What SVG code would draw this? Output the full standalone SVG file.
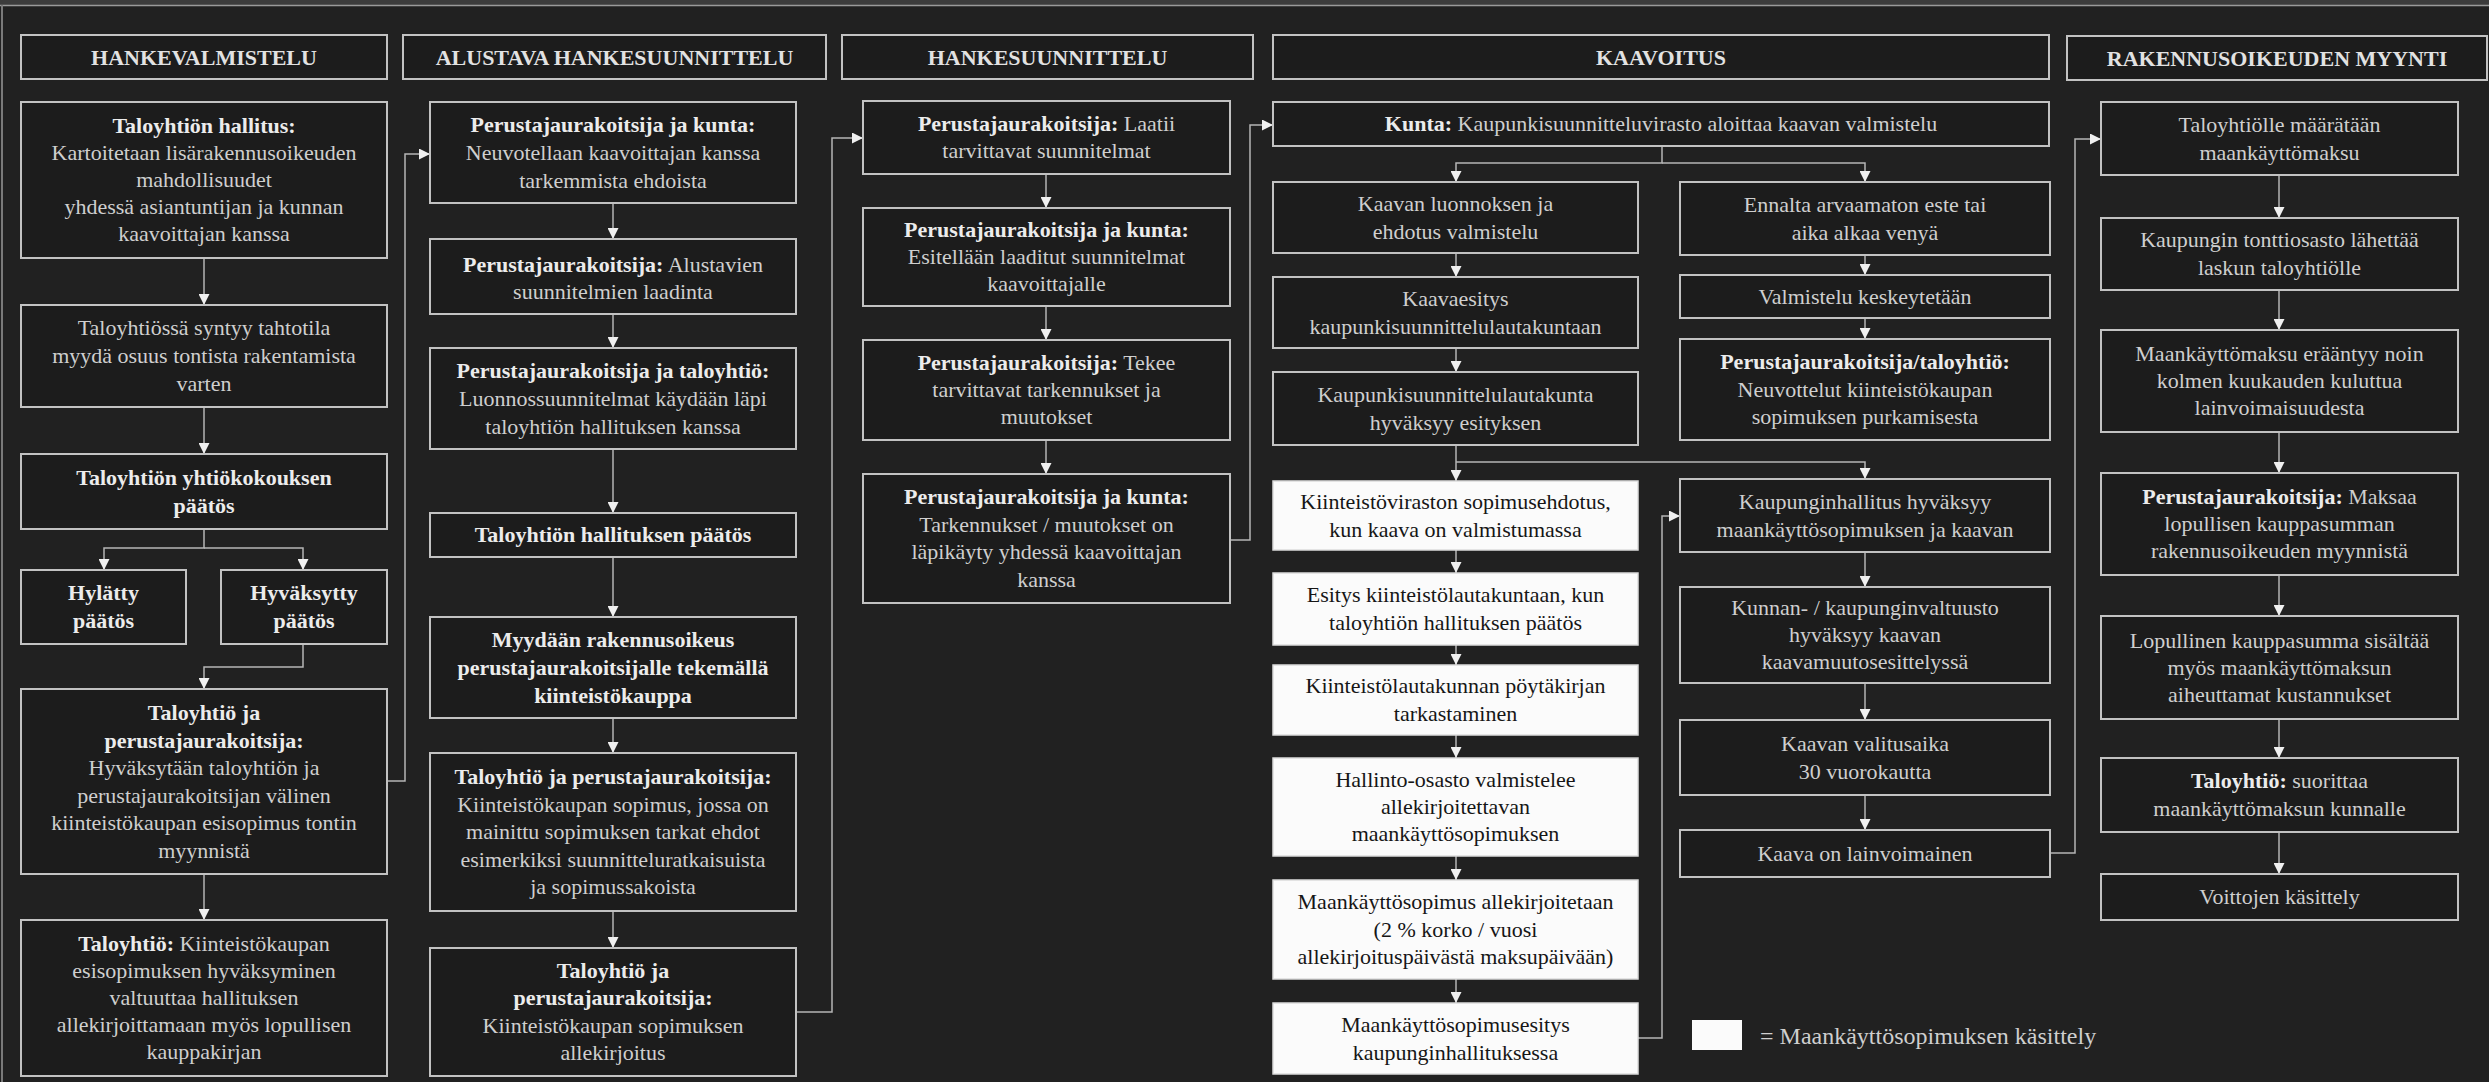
<svg xmlns="http://www.w3.org/2000/svg" width="2489" height="1082" viewBox="0 0 2489 1082">
<style>
.box{fill:#1c1c1c;stroke:#c2c2c2;stroke-width:2}
.wbox{fill:#fbfbfb;stroke:#dcdcdc;stroke-width:1.5}
text{font-family:"Liberation Serif","Times New Roman",serif;font-size:22px;text-anchor:middle;fill:#cfcfcf}
.b{font-weight:bold;fill:#ececec}
.w{fill:#161616}
.h{font-weight:bold;fill:#e2e2e2}
.c{fill:none;stroke:#b5b5b5;stroke-width:1.5;marker-end:url(#ah)}
.cn{fill:none;stroke:#b5b5b5;stroke-width:1.5}
.lg{text-anchor:start;font-size:24px}
</style>
<defs>
<marker id="ah" viewBox="0 0 10 10" refX="10" refY="5" markerWidth="11" markerHeight="11" markerUnits="userSpaceOnUse" orient="auto"><path d="M0,0 L10,5 L0,10 z" fill="#f0f0f0"/></marker>
</defs>
<rect x="0" y="0" width="2489" height="1082" fill="#212121"/>
<rect x="0" y="0" width="2489" height="5" fill="#3c3c3c"/>
<line x1="0" y1="5.5" x2="2489" y2="5.5" stroke="#9a9a9a" stroke-width="1.5"/>
<line x1="2" y1="5" x2="2" y2="1082" stroke="#7a7a7a" stroke-width="2"/>

<g id="connectors">
<path class="c" d="M204,258 V305"/>
<path class="c" d="M204,407 V454"/>
<path class="c" d="M204,529 V548 H104 V570"/>
<path class="c" d="M204,548 H303 V570"/>
<path class="c" d="M303,644 V667 H204 V689"/>
<path class="c" d="M204,874 V920"/>
<path class="c" d="M387,781 H405 V154 H430"/>
<path class="c" d="M613,203 V239"/>
<path class="c" d="M613,314 V348"/>
<path class="c" d="M613,449 V513"/>
<path class="c" d="M613,557 V617"/>
<path class="c" d="M613,718 V753"/>
<path class="c" d="M613,911 V948"/>
<path class="c" d="M796,1012 H832 V138 H863"/>
<path class="c" d="M1046,174 V208"/>
<path class="c" d="M1046,306 V340"/>
<path class="c" d="M1046,440 V474"/>
<path class="c" d="M1230,540 H1250 V125 H1273"/>
<path class="c" d="M1662,146 V163 H1456 V182"/>
<path class="c" d="M1662,163 H1865 V182"/>
<path class="c" d="M1456,253 V277"/>
<path class="c" d="M1456,348 V372"/>
<path class="c" d="M1456,445 V481"/>
<path class="c" d="M1456,462 H1865 V479"/>
<path class="c" d="M1456,550 V573"/>
<path class="c" d="M1456,645 V665"/>
<path class="c" d="M1456,735 V758"/>
<path class="c" d="M1456,856 V880"/>
<path class="c" d="M1456,979 V1003"/>
<path class="c" d="M1865,255 V275"/>
<path class="c" d="M1865,318 V339"/>
<path class="c" d="M1638,1038 H1662 V516 H1680"/>
<path class="c" d="M1865,552 V587"/>
<path class="c" d="M1865,683 V720"/>
<path class="c" d="M1865,795 V830"/>
<path class="c" d="M2050,853 H2075 V139 H2101"/>
<path class="c" d="M2279,175 V218"/>
<path class="c" d="M2279,290 V330"/>
<path class="c" d="M2279,432 V473"/>
<path class="c" d="M2279,575 V616"/>
<path class="c" d="M2279,719 V758"/>
<path class="c" d="M2279,832 V874"/>
</g>

<!-- Column headers -->
<g id="hdr1"><rect class="box" x="21" y="35" width="366" height="44"/><text class="h" x="204" y="65">HANKEVALMISTELU</text></g>
<g id="hdr2"><rect class="box" x="403" y="35" width="423" height="44"/><text class="h" x="614.5" y="65">ALUSTAVA HANKESUUNNITTELU</text></g>
<g id="hdr3"><rect class="box" x="842" y="35" width="411" height="44"/><text class="h" x="1047.5" y="65">HANKESUUNNITTELU</text></g>
<g id="hdr4"><rect class="box" x="1273" y="35" width="776" height="44"/><text class="h" x="1661" y="65">KAAVOITUS</text></g>
<g id="hdr5"><rect class="box" x="2067" y="36" width="420" height="44"/><text class="h" x="2277" y="66">RAKENNUSOIKEUDEN MYYNTI</text></g>

<!-- Column 1 -->
<g id="n1"><rect class="box" x="21" y="102" width="366" height="156"/>
<text><tspan class="b" x="204" y="133">Taloyhtiön hallitus:</tspan><tspan x="204" y="160">Kartoitetaan lisärakennusoikeuden</tspan><tspan x="204" y="187">mahdollisuudet</tspan><tspan x="204" y="214">yhdessä asiantuntijan ja kunnan</tspan><tspan x="204" y="241">kaavoittajan kanssa</tspan></text></g>
<g id="n2"><rect class="box" x="21" y="305" width="366" height="102"/>
<text><tspan x="204" y="335">Taloyhtiössä syntyy tahtotila</tspan><tspan x="204" y="363">myydä osuus tontista rakentamista</tspan><tspan x="204" y="391">varten</tspan></text></g>
<g id="n3"><rect class="box" x="21" y="454" width="366" height="75"/>
<text class="b"><tspan x="204" y="485">Taloyhtiön yhtiökokouksen</tspan><tspan x="204" y="513">päätös</tspan></text></g>
<g id="n4a"><rect class="box" x="21" y="570" width="165" height="74"/>
<text class="b"><tspan x="103.5" y="600">Hylätty</tspan><tspan x="103.5" y="628">päätös</tspan></text></g>
<g id="n4b"><rect class="box" x="221" y="570" width="166" height="74"/>
<text class="b"><tspan x="304" y="600">Hyväksytty</tspan><tspan x="304" y="628">päätös</tspan></text></g>
<g id="n5"><rect class="box" x="21" y="689" width="366" height="185"/>
<text><tspan class="b" x="204" y="720">Taloyhtiö ja</tspan><tspan class="b" x="204" y="748">perustajaurakoitsija:</tspan><tspan x="204" y="775">Hyväksytään taloyhtiön ja</tspan><tspan x="204" y="803">perustajaurakoitsijan välinen</tspan><tspan x="204" y="830">kiinteistökaupan esisopimus tontin</tspan><tspan x="204" y="858">myynnistä</tspan></text></g>
<g id="n6"><rect class="box" x="21" y="920" width="366" height="156"/>
<text><tspan x="204" y="951"><tspan class="b">Taloyhtiö:</tspan> Kiinteistökaupan</tspan><tspan x="204" y="978">esisopimuksen hyväksyminen</tspan><tspan x="204" y="1005">valtuuttaa hallituksen</tspan><tspan x="204" y="1032">allekirjoittamaan myös lopullisen</tspan><tspan x="204" y="1059">kauppakirjan</tspan></text></g>

<!-- Column 2 -->
<g id="m1"><rect class="box" x="430" y="102" width="366" height="101"/>
<text><tspan class="b" x="613" y="132">Perustajaurakoitsija ja kunta:</tspan><tspan x="613" y="160">Neuvotellaan kaavoittajan kanssa</tspan><tspan x="613" y="188">tarkemmista ehdoista</tspan></text></g>
<g id="m2"><rect class="box" x="430" y="239" width="366" height="75"/>
<text><tspan x="613" y="272"><tspan class="b">Perustajaurakoitsija:</tspan> Alustavien</tspan><tspan x="613" y="299">suunnitelmien laadinta</tspan></text></g>
<g id="m3"><rect class="box" x="430" y="348" width="366" height="101"/>
<text><tspan class="b" x="613" y="378">Perustajaurakoitsija ja taloyhtiö:</tspan><tspan x="613" y="406">Luonnossuunnitelmat käydään läpi</tspan><tspan x="613" y="434">taloyhtiön hallituksen kanssa</tspan></text></g>
<g id="m4"><rect class="box" x="430" y="513" width="366" height="44"/>
<text class="b" x="613" y="542">Taloyhtiön hallituksen päätös</text></g>
<g id="m5"><rect class="box" x="430" y="617" width="366" height="101"/>
<text class="b"><tspan x="613" y="647">Myydään rakennusoikeus</tspan><tspan x="613" y="675">perustajaurakoitsijalle tekemällä</tspan><tspan x="613" y="703">kiinteistökauppa</tspan></text></g>
<g id="m6"><rect class="box" x="430" y="753" width="366" height="158"/>
<text><tspan class="b" x="613" y="784">Taloyhtiö ja perustajaurakoitsija:</tspan><tspan x="613" y="812">Kiinteistökaupan sopimus, jossa on</tspan><tspan x="613" y="839">mainittu sopimuksen tarkat ehdot</tspan><tspan x="613" y="867">esimerkiksi suunnitteluratkaisuista</tspan><tspan x="613" y="894">ja sopimussakoista</tspan></text></g>
<g id="m7"><rect class="box" x="430" y="948" width="366" height="128"/>
<text><tspan class="b" x="613" y="978">Taloyhtiö ja</tspan><tspan class="b" x="613" y="1005">perustajaurakoitsija:</tspan><tspan x="613" y="1033">Kiinteistökaupan sopimuksen</tspan><tspan x="613" y="1060">allekirjoitus</tspan></text></g>

<!-- Column 3 -->
<g id="c1"><rect class="box" x="863" y="101" width="367" height="73"/>
<text><tspan x="1046.5" y="131"><tspan class="b">Perustajaurakoitsija:</tspan> Laatii</tspan><tspan x="1046.5" y="158">tarvittavat suunnitelmat</tspan></text></g>
<g id="c2"><rect class="box" x="863" y="208" width="367" height="98"/>
<text><tspan class="b" x="1046.5" y="237">Perustajaurakoitsija ja kunta:</tspan><tspan x="1046.5" y="264">Esitellään laaditut suunnitelmat</tspan><tspan x="1046.5" y="291">kaavoittajalle</tspan></text></g>
<g id="c3"><rect class="box" x="863" y="340" width="367" height="100"/>
<text><tspan x="1046.5" y="370"><tspan class="b">Perustajaurakoitsija:</tspan> Tekee</tspan><tspan x="1046.5" y="397">tarvittavat tarkennukset ja</tspan><tspan x="1046.5" y="424">muutokset</tspan></text></g>
<g id="c4"><rect class="box" x="863" y="474" width="367" height="129"/>
<text><tspan class="b" x="1046.5" y="504">Perustajaurakoitsija ja kunta:</tspan><tspan x="1046.5" y="532">Tarkennukset / muutokset on</tspan><tspan x="1046.5" y="559">läpikäyty yhdessä kaavoittajan</tspan><tspan x="1046.5" y="587">kanssa</tspan></text></g>

<!-- Column 4 -->
<g id="k0"><rect class="box" x="1273" y="102" width="776" height="44"/>
<text x="1661" y="131"><tspan class="b">Kunta:</tspan> Kaupunkisuunnitteluvirasto aloittaa kaavan valmistelu</text></g>
<g id="k1"><rect class="box" x="1273" y="182" width="365" height="71"/>
<text><tspan x="1455.5" y="211">Kaavan luonnoksen ja</tspan><tspan x="1455.5" y="239">ehdotus valmistelu</tspan></text></g>
<g id="k2"><rect class="box" x="1273" y="277" width="365" height="71"/>
<text><tspan x="1455.5" y="306">Kaavaesitys</tspan><tspan x="1455.5" y="334">kaupunkisuunnittelulautakuntaan</tspan></text></g>
<g id="k3"><rect class="box" x="1273" y="372" width="365" height="73"/>
<text><tspan x="1455.5" y="402">Kaupunkisuunnittelulautakunta</tspan><tspan x="1455.5" y="430">hyväksyy esityksen</tspan></text></g>
<g id="w1"><rect class="wbox" x="1273" y="481" width="365" height="69"/>
<text class="w"><tspan x="1455.5" y="509">Kiinteistöviraston sopimusehdotus,</tspan><tspan x="1455.5" y="537">kun kaava on valmistumassa</tspan></text></g>
<g id="w2"><rect class="wbox" x="1273" y="573" width="365" height="72"/>
<text class="w"><tspan x="1455.5" y="602">Esitys kiinteistölautakuntaan, kun</tspan><tspan x="1455.5" y="630">taloyhtiön hallituksen päätös</tspan></text></g>
<g id="w3"><rect class="wbox" x="1273" y="665" width="365" height="70"/>
<text class="w"><tspan x="1455.5" y="693">Kiinteistölautakunnan pöytäkirjan</tspan><tspan x="1455.5" y="721">tarkastaminen</tspan></text></g>
<g id="w4"><rect class="wbox" x="1273" y="758" width="365" height="98"/>
<text class="w"><tspan x="1455.5" y="787">Hallinto-osasto valmistelee</tspan><tspan x="1455.5" y="814">allekirjoitettavan</tspan><tspan x="1455.5" y="841">maankäyttösopimuksen</tspan></text></g>
<g id="w5"><rect class="wbox" x="1273" y="880" width="365" height="99"/>
<text class="w"><tspan x="1455.5" y="909">Maankäyttösopimus allekirjoitetaan</tspan><tspan x="1455.5" y="937">(2 % korko / vuosi</tspan><tspan x="1455.5" y="964">allekirjoituspäivästä maksupäivään)</tspan></text></g>
<g id="w6"><rect class="wbox" x="1273" y="1003" width="365" height="71"/>
<text class="w"><tspan x="1455.5" y="1032">Maankäyttösopimusesitys</tspan><tspan x="1455.5" y="1060">kaupunginhallituksessa</tspan></text></g>
<g id="r1"><rect class="box" x="1680" y="182" width="370" height="73"/>
<text><tspan x="1865" y="212">Ennalta arvaamaton este tai</tspan><tspan x="1865" y="240">aika alkaa venyä</tspan></text></g>
<g id="r2"><rect class="box" x="1680" y="275" width="370" height="43"/>
<text x="1865" y="304">Valmistelu keskeytetään</text></g>
<g id="r3"><rect class="box" x="1680" y="339" width="370" height="101"/>
<text><tspan class="b" x="1865" y="369">Perustajaurakoitsija/taloyhtiö:</tspan><tspan x="1865" y="397">Neuvottelut kiinteistökaupan</tspan><tspan x="1865" y="424">sopimuksen purkamisesta</tspan></text></g>
<g id="r4"><rect class="box" x="1680" y="479" width="370" height="73"/>
<text><tspan x="1865" y="509">Kaupunginhallitus hyväksyy</tspan><tspan x="1865" y="537">maankäyttösopimuksen ja kaavan</tspan></text></g>
<g id="r5"><rect class="box" x="1680" y="587" width="370" height="96"/>
<text><tspan x="1865" y="615">Kunnan- / kaupunginvaltuusto</tspan><tspan x="1865" y="642">hyväksyy kaavan</tspan><tspan x="1865" y="669">kaavamuutosesittelyssä</tspan></text></g>
<g id="r6"><rect class="box" x="1680" y="720" width="370" height="75"/>
<text><tspan x="1865" y="751">Kaavan valitusaika</tspan><tspan x="1865" y="779">30 vuorokautta</tspan></text></g>
<g id="r7"><rect class="box" x="1680" y="830" width="370" height="47"/>
<text x="1865" y="861">Kaava on lainvoimainen</text></g>

<!-- Legend -->
<g id="legend"><rect x="1692" y="1020" width="50" height="30" fill="#fbfbfb"/>
<text class="lg" x="1760" y="1044">= Maankäyttösopimuksen käsittely</text></g>

<!-- Column 5 -->
<g id="s1"><rect class="box" x="2101" y="102" width="357" height="73"/>
<text><tspan x="2279.5" y="132">Taloyhtiölle määrätään</tspan><tspan x="2279.5" y="160">maankäyttömaksu</tspan></text></g>
<g id="s2"><rect class="box" x="2101" y="218" width="357" height="72"/>
<text><tspan x="2279.5" y="247">Kaupungin tonttiosasto lähettää</tspan><tspan x="2279.5" y="275">laskun taloyhtiölle</tspan></text></g>
<g id="s3"><rect class="box" x="2101" y="330" width="357" height="102"/>
<text><tspan x="2279.5" y="361">Maankäyttömaksu erääntyy noin</tspan><tspan x="2279.5" y="388">kolmen kuukauden kuluttua</tspan><tspan x="2279.5" y="415">lainvoimaisuudesta</tspan></text></g>
<g id="s4"><rect class="box" x="2101" y="473" width="357" height="102"/>
<text><tspan x="2279.5" y="504"><tspan class="b">Perustajaurakoitsija:</tspan> Maksaa</tspan><tspan x="2279.5" y="531">lopullisen kauppasumman</tspan><tspan x="2279.5" y="558">rakennusoikeuden myynnistä</tspan></text></g>
<g id="s5"><rect class="box" x="2101" y="616" width="357" height="103"/>
<text><tspan x="2279.5" y="648">Lopullinen kauppasumma sisältää</tspan><tspan x="2279.5" y="675">myös maankäyttömaksun</tspan><tspan x="2279.5" y="702">aiheuttamat kustannukset</tspan></text></g>
<g id="s6"><rect class="box" x="2101" y="758" width="357" height="74"/>
<text><tspan x="2279.5" y="788"><tspan class="b">Taloyhtiö:</tspan> suorittaa</tspan><tspan x="2279.5" y="816">maankäyttömaksun kunnalle</tspan></text></g>
<g id="s7"><rect class="box" x="2101" y="874" width="357" height="46"/>
<text x="2279.5" y="904">Voittojen käsittely</text></g>
</svg>
